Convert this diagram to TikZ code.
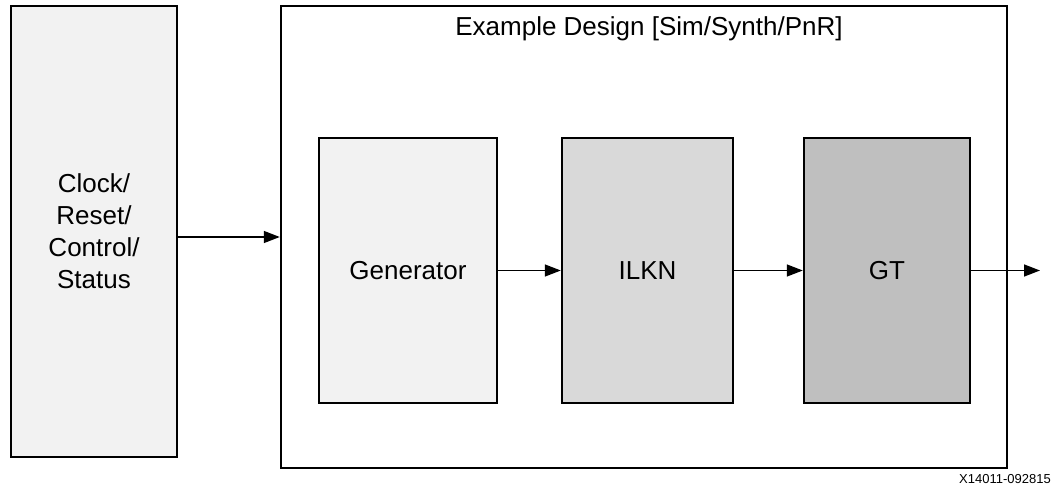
\documentclass[tikz,border=0pt]{standalone}
\usepackage{fontspec}
\setmainfont{Liberation Sans}
\usetikzlibrary{arrows.meta}
\definecolor{fillA}{HTML}{F2F2F2}
\definecolor{fillB}{HTML}{D9D9D9}
\definecolor{fillC}{HTML}{BFBFBF}
\begin{document}
\begin{tikzpicture}[x=1pt,y=-1pt,
  blk/.style={draw=black, line width=2.4pt, rectangle, inner sep=0pt, align=center,
    font=\fontsize{26}{32}\selectfont},
  conn/.style={line width=1.4pt, -{Triangle[length=16pt,width=12pt]}}]
\useasboundingbox (0,0) rectangle (1055,486);
\node[blk, fill=fillA, minimum width=166pt, minimum height=451pt] (ctrl) at (94,231.5) {Clock/\\Reset/\\Control/\\Status};
\node[blk, fill=white, minimum width=726pt, minimum height=462pt] (ex) at (644,237) {};
\node[font=\fontsize{26}{32}\selectfont, inner sep=0pt] (title) at (649,29) {Example Design [Sim/Synth/PnR]};
\node[blk, fill=fillA, minimum width=178pt, minimum height=265pt] (gen) at (408,270.5) {Generator};
\node[blk, fill=fillB, minimum width=171pt, minimum height=265pt] (ilkn) at (647.5,270.5) {ILKN};
\node[blk, fill=fillC, minimum width=166pt, minimum height=265pt] (gt) at (887,270.5) {GT};
\coordinate (out) at (1040,270.5);
\node[font=\fontsize{13}{15}\selectfont, anchor=east, inner sep=0pt] (fig) at (1051,479) {X14011-092815};
\draw[conn] (ctrl.east |- ex.west) -- (ex.west);
\draw[conn] (gen.east) -- (ilkn.west);
\draw[conn] (ilkn.east) -- (gt.west);
\draw[conn] (gt.east) -- (out);
\end{tikzpicture}
\end{document}
